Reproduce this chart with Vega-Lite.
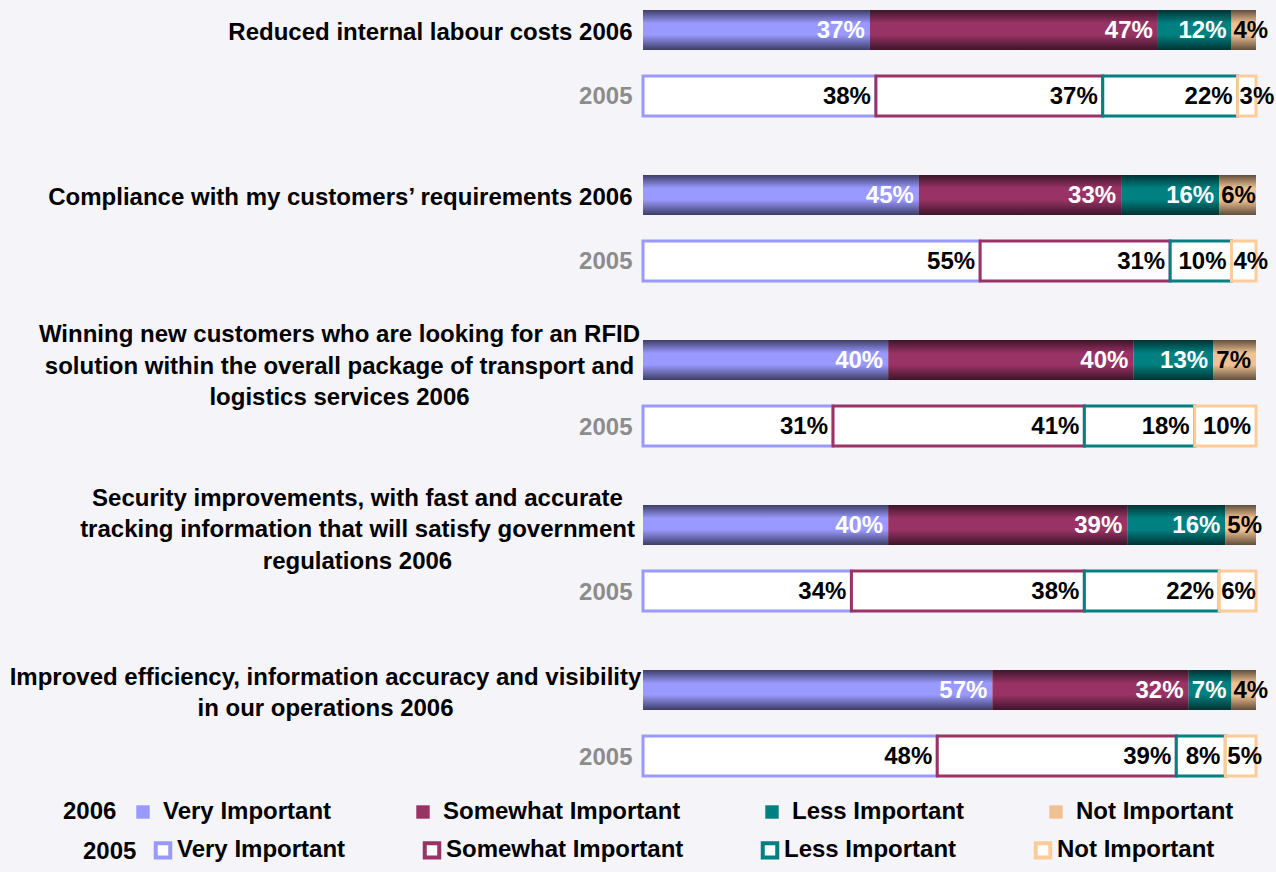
{
  "$schema": "https://vega.github.io/schema/vega-lite/v6.json",
  "autosize": {"type": "none"},
  "width": 613,
  "height": 786,
  "padding": {"left": 643, "top": 0, "right": 20, "bottom": 86},
  "background": "#f5f4f9",
  "config": {"view": {"stroke": null}, "font": "Liberation Sans"},
  "data": {"values": [
    {"row": "Reduced internal labour costs 2006", "year": "2006", "importance": "Very Important", "pct": 0.37},
    {"row": "Reduced internal labour costs 2006", "year": "2006", "importance": "Somewhat Important", "pct": 0.47},
    {"row": "Reduced internal labour costs 2006", "year": "2006", "importance": "Less Important", "pct": 0.12},
    {"row": "Reduced internal labour costs 2006", "year": "2006", "importance": "Not Important", "pct": 0.04},
    {"row": "Reduced internal labour costs 2005", "year": "2005", "importance": "Very Important", "pct": 0.38},
    {"row": "Reduced internal labour costs 2005", "year": "2005", "importance": "Somewhat Important", "pct": 0.37},
    {"row": "Reduced internal labour costs 2005", "year": "2005", "importance": "Less Important", "pct": 0.22},
    {"row": "Reduced internal labour costs 2005", "year": "2005", "importance": "Not Important", "pct": 0.03},
    {"row": "Compliance with my customers’ requirements 2006", "year": "2006", "importance": "Very Important", "pct": 0.45},
    {"row": "Compliance with my customers’ requirements 2006", "year": "2006", "importance": "Somewhat Important", "pct": 0.33},
    {"row": "Compliance with my customers’ requirements 2006", "year": "2006", "importance": "Less Important", "pct": 0.16},
    {"row": "Compliance with my customers’ requirements 2006", "year": "2006", "importance": "Not Important", "pct": 0.06},
    {"row": "Compliance with my customers’ requirements 2005", "year": "2005", "importance": "Very Important", "pct": 0.55},
    {"row": "Compliance with my customers’ requirements 2005", "year": "2005", "importance": "Somewhat Important", "pct": 0.31},
    {"row": "Compliance with my customers’ requirements 2005", "year": "2005", "importance": "Less Important", "pct": 0.10},
    {"row": "Compliance with my customers’ requirements 2005", "year": "2005", "importance": "Not Important", "pct": 0.04},
    {"row": "Winning new customers who are looking for an RFID solution within the overall package of transport and logistics services 2006", "year": "2006", "importance": "Very Important", "pct": 0.40},
    {"row": "Winning new customers who are looking for an RFID solution within the overall package of transport and logistics services 2006", "year": "2006", "importance": "Somewhat Important", "pct": 0.40},
    {"row": "Winning new customers who are looking for an RFID solution within the overall package of transport and logistics services 2006", "year": "2006", "importance": "Less Important", "pct": 0.13},
    {"row": "Winning new customers who are looking for an RFID solution within the overall package of transport and logistics services 2006", "year": "2006", "importance": "Not Important", "pct": 0.07},
    {"row": "Winning new customers who are looking for an RFID solution within the overall package of transport and logistics services 2005", "year": "2005", "importance": "Very Important", "pct": 0.31},
    {"row": "Winning new customers who are looking for an RFID solution within the overall package of transport and logistics services 2005", "year": "2005", "importance": "Somewhat Important", "pct": 0.41},
    {"row": "Winning new customers who are looking for an RFID solution within the overall package of transport and logistics services 2005", "year": "2005", "importance": "Less Important", "pct": 0.18},
    {"row": "Winning new customers who are looking for an RFID solution within the overall package of transport and logistics services 2005", "year": "2005", "importance": "Not Important", "pct": 0.10},
    {"row": "Security improvements, with fast and accurate tracking information that will satisfy government regulations 2006", "year": "2006", "importance": "Very Important", "pct": 0.40},
    {"row": "Security improvements, with fast and accurate tracking information that will satisfy government regulations 2006", "year": "2006", "importance": "Somewhat Important", "pct": 0.39},
    {"row": "Security improvements, with fast and accurate tracking information that will satisfy government regulations 2006", "year": "2006", "importance": "Less Important", "pct": 0.16},
    {"row": "Security improvements, with fast and accurate tracking information that will satisfy government regulations 2006", "year": "2006", "importance": "Not Important", "pct": 0.05},
    {"row": "Security improvements, with fast and accurate tracking information that will satisfy government regulations 2005", "year": "2005", "importance": "Very Important", "pct": 0.34},
    {"row": "Security improvements, with fast and accurate tracking information that will satisfy government regulations 2005", "year": "2005", "importance": "Somewhat Important", "pct": 0.38},
    {"row": "Security improvements, with fast and accurate tracking information that will satisfy government regulations 2005", "year": "2005", "importance": "Less Important", "pct": 0.22},
    {"row": "Security improvements, with fast and accurate tracking information that will satisfy government regulations 2005", "year": "2005", "importance": "Not Important", "pct": 0.06},
    {"row": "Improved efficiency, information accuracy and visibility in our operations 2006", "year": "2006", "importance": "Very Important", "pct": 0.57},
    {"row": "Improved efficiency, information accuracy and visibility in our operations 2006", "year": "2006", "importance": "Somewhat Important", "pct": 0.32},
    {"row": "Improved efficiency, information accuracy and visibility in our operations 2006", "year": "2006", "importance": "Less Important", "pct": 0.07},
    {"row": "Improved efficiency, information accuracy and visibility in our operations 2006", "year": "2006", "importance": "Not Important", "pct": 0.04},
    {"row": "Improved efficiency, information accuracy and visibility in our operations 2005", "year": "2005", "importance": "Very Important", "pct": 0.48},
    {"row": "Improved efficiency, information accuracy and visibility in our operations 2005", "year": "2005", "importance": "Somewhat Important", "pct": 0.39},
    {"row": "Improved efficiency, information accuracy and visibility in our operations 2005", "year": "2005", "importance": "Less Important", "pct": 0.08},
    {"row": "Improved efficiency, information accuracy and visibility in our operations 2005", "year": "2005", "importance": "Not Important", "pct": 0.05}
  ]},
  "transform": [{"stack": "pct", "groupby": ["row"], "as": ["x0", "x1"]}],
  "encoding": {
    "y": {
      "field": "row",
      "type": "nominal",
      "scale": {
        "type": "point",
        "padding": 0.909,
        "domain": [
          "Reduced internal labour costs 2006", "gap1", "Reduced internal labour costs 2005", "gap2", "gap3",
          "Compliance with my customers’ requirements 2006", "gap4", "Compliance with my customers’ requirements 2005", "gap5", "gap6",
          "Winning new customers who are looking for an RFID solution within the overall package of transport and logistics services 2006", "gap7",
          "Winning new customers who are looking for an RFID solution within the overall package of transport and logistics services 2005", "gap8", "gap9",
          "Security improvements, with fast and accurate tracking information that will satisfy government regulations 2006", "gap10",
          "Security improvements, with fast and accurate tracking information that will satisfy government regulations 2005", "gap11", "gap12",
          "Improved efficiency, information accuracy and visibility in our operations 2006", "gap13",
          "Improved efficiency, information accuracy and visibility in our operations 2005"
        ]
      },
      "axis": {
        "title": null,
        "domain": false,
        "ticks": false,
        "tickSize": 0,
        "grid": false,
        "labelOverlap": false,
        "labelBound": false,
        "labelFont": "Liberation Sans",
        "labelFontWeight": "bold",
        "labelFontSize": 24,
        "labelLimit": 900,
        "labelPadding": 11,
        "labelLineHeight": 31.5,
        "labelBaseline": "middle",
        "labelColor": {"condition": {"test": "indexof(datum.value,' 2005')>0", "value": "#8c8c8c"}, "value": "#000000"},
        "labelAlign": {"condition": {"test": "(indexof(datum.value,'Winning')==0 || indexof(datum.value,'Security')==0 || indexof(datum.value,'Improved')==0) && indexof(datum.value,' 2006')>0", "value": "center"}, "value": "right"},
        "labelExpr": "indexof(datum.value,'gap')==0 ? '' : indexof(datum.value,' 2005')>0 ? '2005' : indexof(datum.value,'Winning')==0 ? ['Winning new customers who are looking for an RFID','solution within the overall package of transport and','logistics services 2006'] : indexof(datum.value,'Security')==0 ? ['Security improvements, with fast and accurate','tracking information that will satisfy government','regulations 2006'] : indexof(datum.value,'Improved')==0 ? ['Improved efficiency, information accuracy and visibility','in our operations 2006'] : datum.value",
        "encoding": {
          "labels": {
            "dx": {
              "condition": [
                {"test": "indexof(datum.value,'Winning')==0 && indexof(datum.value,' 2006')>0", "value": -293},
                {"test": "indexof(datum.value,'Security')==0 && indexof(datum.value,' 2006')>0", "value": -275},
                {"test": "indexof(datum.value,'Improved')==0 && indexof(datum.value,' 2006')>0", "value": -307}
              ],
              "value": 0
            },
            "dy": {
              "condition": [
                {"test": "indexof(datum.value,'Winning')==0 && indexof(datum.value,' 2006')>0", "value": -25},
                {"test": "indexof(datum.value,'Security')==0 && indexof(datum.value,' 2006')>0", "value": -27},
                {"test": "indexof(datum.value,'Improved')==0 && indexof(datum.value,' 2006')>0", "value": -13},
                {"test": "indexof(datum.value,' 2006')>0", "value": 3}
              ],
              "value": 1
            }
          }
        }
      }
    }
  },
  "layer": [
    {
      "transform": [{"filter": "datum.year == '2006'"}],
      "mark": {"type": "bar", "size": 40},
      "encoding": {
        "x": {"field": "x0", "type": "quantitative", "scale": {"domain": [0, 1], "nice": false}, "axis": null},
        "x2": {"field": "x1"},
        "fill": {
          "field": "importance",
          "type": "nominal",
          "scale": {
            "domain": ["Very Important", "Somewhat Important", "Less Important", "Not Important"],
            "range": ["#9999ff", "#993366", "#008080", "#f0c293"]
          },
          "legend": {
            "title": "2006",
            "orient": "none",
            "legendX": -580,
            "legendY": 800,
            "direction": "horizontal",
            "columns": 4,
            "columnPadding": 79,
            "titleOrient": "left",
            "titlePadding": 14,
            "titleFont": "Liberation Sans",
            "titleFontSize": 24,
            "titleFontWeight": "bold",
            "titleColor": "#000000",
            "labelFont": "Liberation Sans",
            "labelFontSize": 24,
            "labelFontWeight": "bold",
            "labelColor": "#000000",
            "labelLimit": 400,
            "labelOffset": 8,
            "symbolType": "square",
            "symbolSize": 180,
            "symbolStrokeWidth": 0
          }
        }
      }
    },
    {
      "transform": [{"filter": "datum.year == '2006'"}],
      "mark": {
        "type": "bar",
        "size": 40,
        "fill": {
          "gradient": "linear",
          "x1": 0, "y1": 0, "x2": 0, "y2": 1,
          "stops": [
            {"offset": 0, "color": "rgba(0,0,0,0.6)"},
            {"offset": 0.33, "color": "rgba(0,0,0,0)"},
            {"offset": 0.62, "color": "rgba(0,0,0,0)"},
            {"offset": 1, "color": "rgba(0,0,0,0.6)"}
          ]
        }
      },
      "encoding": {
        "x": {"field": "x0", "type": "quantitative"},
        "x2": {"field": "x1"}
      }
    },
    {
      "transform": [{"filter": "datum.year == '2005'"}],
      "mark": {"type": "bar", "size": 40, "fill": "#ffffff", "strokeWidth": 3},
      "encoding": {
        "x": {"field": "x0", "type": "quantitative"},
        "x2": {"field": "x1"},
        "stroke": {
          "field": "importance",
          "type": "nominal",
          "sort": ["Very Important", "Somewhat Important", "Less Important", "Not Important"],
          "scale": {"range": ["#9999ff", "#993366", "#008080", "#ffcc99"]},
          "legend": {
            "title": "2005",
            "orient": "none",
            "legendX": -560,
            "legendY": 838,
            "direction": "horizontal",
            "columns": 4,
            "columnPadding": 70,
            "titleOrient": "left",
            "titlePadding": 14,
            "titleFont": "Liberation Sans",
            "titleFontSize": 24,
            "titleFontWeight": "bold",
            "titleColor": "#000000",
            "labelFont": "Liberation Sans",
            "labelFontSize": 24,
            "labelFontWeight": "bold",
            "labelColor": "#000000",
            "labelLimit": 400,
            "labelOffset": 2,
            "symbolType": "square",
            "symbolSize": 210,
            "symbolFillColor": "#ffffff",
            "symbolStrokeWidth": 4
          }
        }
      }
    },
    {
      "transform": [{"filter": "datum.pct >= 0.065"}],
      "mark": {"type": "text", "align": "right", "baseline": "middle", "dx": -5, "dy": 1, "font": "Liberation Sans", "fontSize": 24, "fontWeight": "bold"},
      "encoding": {
        "x": {"field": "x1", "type": "quantitative"},
        "text": {"field": "pct", "type": "quantitative", "format": ".0%"},
        "color": {"condition": {"test": "datum.year == '2006' && datum.importance != 'Not Important'", "value": "#ffffff"}, "value": "#000000"}
      }
    },
    {
      "transform": [{"filter": "datum.pct < 0.065"}],
      "mark": {"type": "text", "align": "left", "baseline": "middle", "dx": 2, "dy": 1, "font": "Liberation Sans", "fontSize": 24, "fontWeight": "bold"},
      "encoding": {
        "x": {"field": "x0", "type": "quantitative"},
        "text": {"field": "pct", "type": "quantitative", "format": ".0%"},
        "color": {"value": "#000000"}
      }
    }
  ]
}
